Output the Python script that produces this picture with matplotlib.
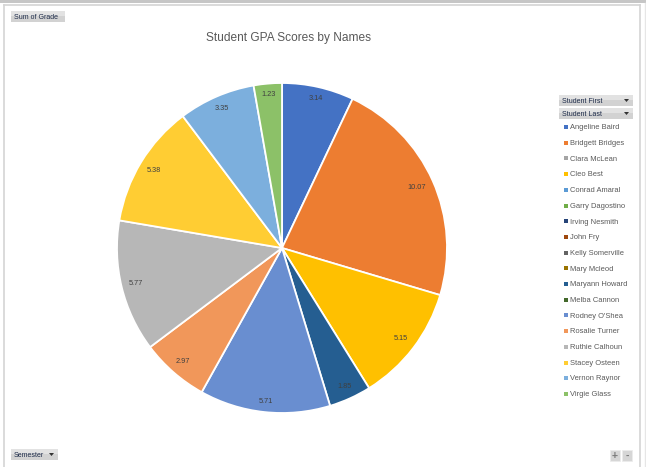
import numpy as np
import matplotlib
matplotlib.use("Agg")
import matplotlib.pyplot as plt
from matplotlib.patches import Rectangle, Polygon

# data
names = ["Angeline Baird", "Bridgett Bridges", "Clara McLean", "Cleo Best",
         "Conrad Amaral", "Garry Dagostino", "Irving Nesmith", "John Fry",
         "Kelly Somerville", "Mary Mcleod", "Maryann Howard", "Melba Cannon",
         "Rodney O'Shea", "Rosalie Turner", "Ruthie Calhoun", "Stacey Osteen",
         "Vernon Raynor", "Virgie Glass"]
grades = [3.14, 10.07, 0, 5.15, 0, 0, 0, 0, 0, 0, 1.85, 0,
          5.71, 2.97, 5.77, 5.38, 3.35, 1.23]
colors = ["#4472C4", "#ED7D31", "#A5A5A5", "#FFC000", "#5B9BD5", "#70AD47",
          "#264478", "#9E480E", "#636363", "#997300", "#255E91", "#43682B",
          "#698ED0", "#F1975A", "#B7B7B7", "#FFCD33", "#7CAFDD", "#8CC168"]
title = "Student GPA Scores by Names"

W, H = 646, 467
FONT = "Liberation Sans"
fig = plt.figure(figsize=(W / 100, H / 100), dpi=100)

# overlay in pixel coordinates for the frame, buttons and legend
bg = fig.add_axes([0, 0, 1, 1])
bg.set_xlim(0, W)
bg.set_ylim(H, 0)
bg.axis("off")

# chart frame
bg.add_patch(Rectangle((0, 0), W, 2.5, color="#c6c6c6", lw=0))
bg.plot([4, 4], [5, H], color="#d4d4d4", lw=1.2)
bg.plot([4, 640], [5, 5], color="#d4d4d4", lw=1.2)
bg.plot([640, 640], [5, H], color="#d4d4d4", lw=1.2)
bg.plot([645, 645], [3, H], color="#e6e6e6", lw=1)


def button(x, y, w, h, text, arrow=False):
    # simple two-tone gray field button
    bg.add_patch(Rectangle((x, y), w, h, facecolor="#d2d2d2", edgecolor="none"))
    bg.add_patch(Rectangle((x, y), w, h * 0.45, facecolor="#e2e2e2", edgecolor="none"))
    bg.text(x + 3, y + h / 2 + 1.2, text, fontsize=5, family=FONT,
            color="#1c2a48", va="center", ha="left")
    if arrow:
        ax0 = x + w - 9
        bg.add_patch(Polygon([[ax0, y + h / 2 - 1.5], [ax0 + 5, y + h / 2 - 1.5],
                              [ax0 + 2.5, y + h / 2 + 1.5]], color="#333333", lw=0))


button(11, 11, 54, 11, "Sum of Grade")
button(559, 95, 74, 11, "Student First", arrow=True)
button(559, 108, 74, 11, "Student Last", arrow=True)
button(11, 449, 47, 11, "Semester", arrow=True)

# zoom buttons
for bx, sign in [(610, "+"), (622, "-")]:
    bg.add_patch(Rectangle((bx, 450), 10, 11, facecolor="#d6d6d6", edgecolor="#ececec", lw=0.5))
    bg.text(bx + 5, 455.8, sign, fontsize=7.5, family=FONT, color="#7a7a7a",
            ha="center", va="center", fontweight="bold")

# legend
for i, (n, c) in enumerate(zip(names, colors)):
    y = 127 + i * 15.7
    bg.add_patch(Rectangle((563.5, y - 2), 4, 4, color=c, lw=0))
    bg.text(570, y + 0.8, n, fontsize=5.4, family=FONT, color="#595959", va="center", ha="left")

# title
bg.text(289, 38, title, fontsize=8.6, family=FONT, color="#595959",
        ha="center", va="center")

# pie
vals = [g for g in grades if g > 0]
cols = [c for g, c in zip(grades, colors) if g > 0]
cx, cy, r = 282, 248, 165
ax = fig.add_axes([(cx - r) / W, (H - cy - r) / H, 2 * r / W, 2 * r / H])
wedges, _ = ax.pie(vals, colors=cols, startangle=90, counterclock=False,
                   wedgeprops=dict(edgecolor="white", linewidth=1.3))
ax.set_xlim(-1, 1)
ax.set_ylim(-1, 1)
ax.axis("off")

# labels at inside end: push the text box against the rim
for w, v in zip(wedges, vals):
    ang = np.deg2rad((w.theta1 + w.theta2) / 2)
    txt = f"{v:.2f}"
    hw = len(txt) * 2.1 / r
    hh = 4.0 / r
    d = 1 - (hw * abs(np.cos(ang)) + hh * abs(np.sin(ang))) - 6.0 / r
    ax.text(d * np.cos(ang), d * np.sin(ang), txt, fontsize=5.3, family=FONT,
            color="#404040", ha="center", va="center")

fig.savefig("out.png", dpi=100)
